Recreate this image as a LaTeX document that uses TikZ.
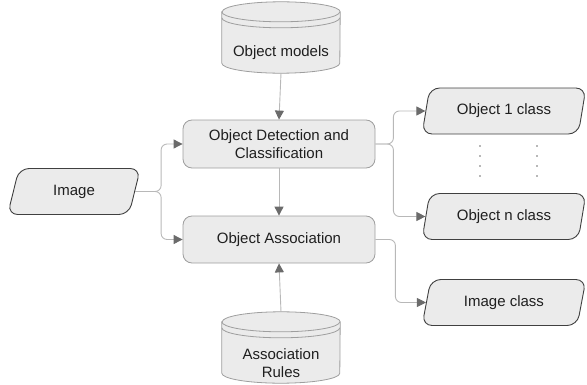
\documentclass[tikz,border=0pt]{standalone}
\usepackage{fontspec}
\setmainfont{Liberation Sans}
\usepackage{tikz}
\usetikzlibrary{calc}
\usetikzlibrary{arrows.meta}
\usetikzlibrary{positioning}
\usetikzlibrary{shapes.geometric}
\definecolor{box-gray}{gray}{0.92}
\definecolor{line-gray}{gray}{0.72}
\definecolor{tip-gray}{gray}{0.42}
\definecolor{edge-gray}{gray}{0.62}
\definecolor{text-gray}{gray}{0.12}

\begin{document}
\begin{tikzpicture}[x=1pt, y=1pt, font=\fontsize{15}{18}\selectfont, text=text-gray,
    process/.style={rectangle, rounded corners=9pt, draw=edge-gray, fill=box-gray,
        line width=0.8pt, minimum width=192pt, minimum height=48pt, align=center},
    data/.style={trapezium, trapezium left angle=76, trapezium right angle=104,
        trapezium stretches=true, rounded corners=10pt, draw=black!75, fill=box-gray,
        line width=0.9pt, minimum height=46pt},
    store/.style={rectangle, inner sep=0pt, minimum width=118pt, minimum height=71pt},
    storeline/.style={draw=edge-gray, fill=box-gray, line width=0.8pt},
    link/.style={draw=line-gray, line width=0.9pt, rounded corners=6pt,
        -{Triangle[length=9pt, width=9pt, color=tip-gray, fill=tip-gray]}},
    dots/.style={draw=line-gray, line width=1.4pt, dash pattern=on 1.4pt off 8.6pt}]
\useasboundingbox (0, 0) rectangle (587, 384);

% ---------------------------------------------------
% Stores (cylinders)
\node[store] (models) at (281, 346.5) {};
\node[store] (rules)  at (281,  36.5) {};
\foreach \s in {models, rules} {
    \draw[storeline] ($ (\s.north west) + (0, -10) $)
        -- ($ (\s.south west) + (0, 10) $)
        arc[start angle=180, end angle=360, x radius=59, y radius=10]
        -- ($ (\s.north east) + (0, -10) $)
        arc[start angle=0, end angle=180, x radius=59, y radius=10] -- cycle;
    \draw[storeline, fill=none] ($ (\s.north west) + (0, -10) $)
        arc[start angle=180, end angle=360, x radius=59, y radius=10];
    \draw[storeline, fill=none] ($ (\s.north west) + (0, -16) $)
        arc[start angle=180, end angle=360, x radius=59, y radius=10];
}
\node[] (models-text) at ($ (models.center) + (0, -15) $) {Object models};
\node[align=center] (rules-text) at ($ (rules.center) + (0, -16) $) {Association\\Rules};

% ---------------------------------------------------
% Processes
\node[process] (detect) at (279, 240) {Object Detection and\\Classification};
\node[process, minimum height=47pt] (assoc) at (279, 144.5) {Object Association};

% Input
\node[data, minimum width=133pt] (image) at (74, 192.5) {Image};

% Outputs
\node[data, minimum width=164pt] (obj1)     at (504, 273)   {Object 1 class};
\node[data, minimum width=164pt] (objn)     at (504, 167.5) {Object n class};
\node[data, minimum width=164pt] (imgclass) at (504, 81.5)  {Image class};

% ---------------------------------------------------
% Connectors
\draw[link] (models.south) -- (detect.north);
\draw[link] (detect.south) -- (assoc.north);
\draw[link] (rules.north) -- (assoc.south);
\draw[link] (image.east) -- ++(26, 0) |- (detect.west);
\draw[link] (image.east) -- ++(26, 0) |- (assoc.west);
\draw[link] (detect.east) -- ++(18, 0) |- (obj1.west);
\draw[link] (detect.east) -- ++(18, 0) |- (objn.west);
\draw[link] (assoc.east) -- ++(20, 0) |- (imgclass.west);

% Dotted gap
\draw[dots] ($ (obj1.south) + (-24, -11) $) -- ($ (objn.north) + (-24, 8) $);
\draw[dots] ($ (obj1.south) + ( 33, -11) $) -- ($ (objn.north) + ( 33, 8) $);
\end{tikzpicture}
\end{document}
